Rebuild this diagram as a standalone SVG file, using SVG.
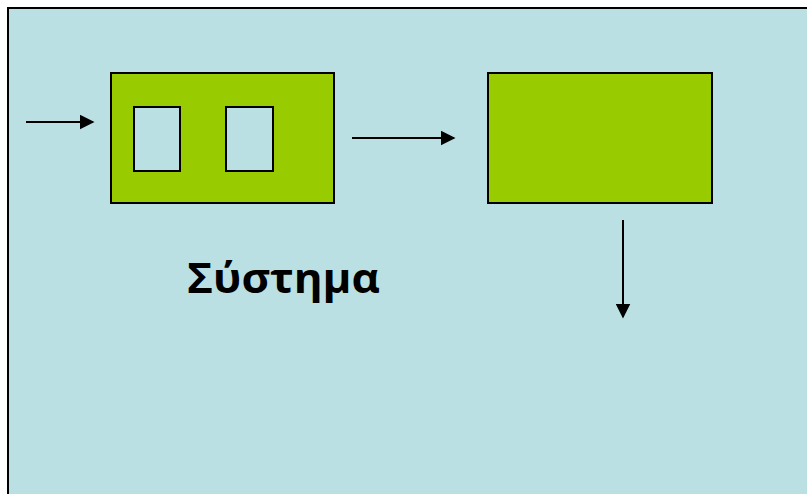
<svg xmlns="http://www.w3.org/2000/svg" width="807" height="494" viewBox="0 0 807 494">
<defs>
<style>
.bg{fill:#BAE0E3;stroke:#000;stroke-width:2}
.box{fill:#99CC00;stroke:#000;stroke-width:2}
.win{fill:#BAE0E3;stroke:#000;stroke-width:2}
.conn{stroke:#000;stroke-width:2;fill:none}
.lbl{font-family:"Open Sans","DejaVu Sans",sans-serif;font-weight:bold;font-size:42px;fill:#000}
</style>
<marker id="ah" viewBox="0 0 10 10" refX="9" refY="5" markerWidth="7.5" markerHeight="7.5" orient="auto" markerUnits="strokeWidth">
<path d="M0,0 L10,5 L0,10 z" fill="#000"/>
</marker>
</defs>
<rect width="807" height="494" fill="#fff"/>
<rect class="bg" x="8" y="8" width="810" height="500"/>
<g id="system">
<rect class="box" x="111" y="73" width="223" height="130"/>
<rect class="win" x="134" y="107" width="46" height="64"/>
<rect class="win" x="226" y="107" width="47" height="64"/>
</g>
<g id="output-block">
<rect class="box" x="488" y="73" width="224" height="130"/>
</g>
<g id="label">
<text class="lbl" x="187" y="293" textLength="193" lengthAdjust="spacingAndGlyphs">Σύστημα</text>
</g>
<g id="connectors">
<line class="conn" x1="26" y1="122" x2="93" y2="122" marker-end="url(#ah)"/>
<line class="conn" x1="352" y1="138" x2="454" y2="138" marker-end="url(#ah)"/>
<line class="conn" x1="623" y1="220" x2="623" y2="317" marker-end="url(#ah)"/>
</g>
</svg>
